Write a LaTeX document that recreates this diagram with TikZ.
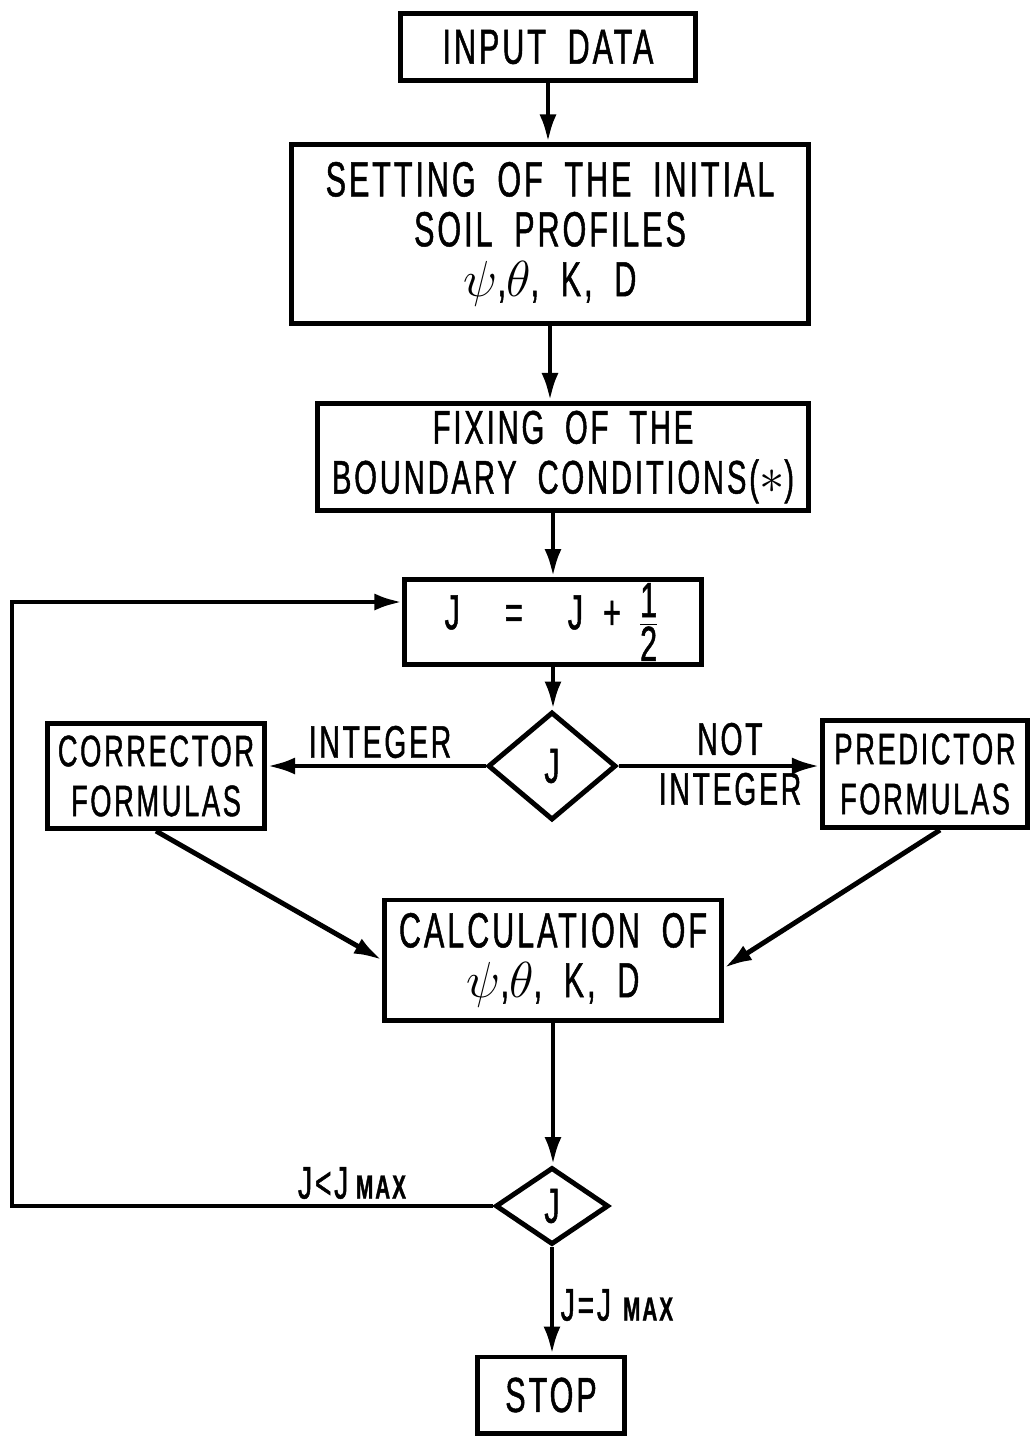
\documentclass[tikz,border=0pt]{standalone}
\usepackage{fontspec}
\setmainfont{Liberation Sans}[FakeStretch=0.62,LetterSpace=6,WordSpace=1.9,FakeBold=1]
\usetikzlibrary{shapes.geometric,arrows.meta}

\tikzset{
  box/.style={draw, line width=1.4pt, inner sep=0pt, align=center,
    font=\fontsize{14}{14.2}\selectfont},
  smallbox/.style={box, font=\fontsize{12.5}{14.2}\selectfont},
  decide/.style={draw, diamond, line width=1.4pt, inner sep=0pt,
    font=\fontsize{14}{14}\selectfont},
  flow/.style={line width=1.4pt, -{Latex[length=2.8mm,width=1.7mm]}},
  lbl/.style={inner sep=0pt, align=center, font=\fontsize{13}{14.2}\selectfont}
}
\newcommand{\jmax}{J\,{\fontsize{9.5}{10}\selectfont\bfseries MAX}}
\newcommand{\halfstep}{\raisebox{-0.3ex}{$\textstyle\frac{\textrm{1}}{\textrm{2}}$}}

\begin{document}
\begin{tikzpicture}[x=0.01cm, y=-0.01cm]
      \useasboundingbox (0, 0) rectangle (1031, 1436);

      \node[box, minimum width=2.95cm, minimum height=0.67cm] (input) at (548, 47) {INPUT DATA};
      \node[box, minimum width=5.16cm, minimum height=1.78cm] (setting) at (550, 234)
        {SETTING OF THE INITIAL\\SOIL PROFILES\\$\psi$,$\theta$, K, D};
      \node[box, minimum width=4.90cm, minimum height=1.07cm,
        font=\fontsize{13.4}{14.2}\selectfont] (fixing) at (563, 457)
        {FIXING OF THE\\BOUNDARY CONDITIONS($\ast$)};
      \node[box, minimum width=2.96cm, minimum height=0.85cm] (incr) at (553, 622)
        {J\hspace{0.45cm}=\hspace{0.45cm}J\hspace{0.2cm}+\hspace{0.15cm}\halfstep};

      \node[decide, minimum width=1.28cm, minimum height=1.08cm] (test) at (552, 766) {J};
      \node[smallbox, minimum width=2.17cm, minimum height=1.05cm] (corrector) at (156, 776)
        {CORRECTOR\\FORMULAS};
      \node[smallbox, minimum width=2.05cm, minimum height=1.07cm] (predictor) at (925, 774)
        {PREDICTOR\\FORMULAS};

      \node[box, minimum width=3.37cm, minimum height=1.20cm] (calc) at (553, 960)
        {CALCULATION OF\\$\psi$,$\theta$, K, D};
      \node[decide, minimum width=1.13cm, minimum height=0.77cm] (check) at (552, 1206) {J};
      \node[box, minimum width=1.47cm, minimum height=0.76cm] (stop) at (551, 1395) {STOP};

      % branch labels
      \node[lbl] (lblint) at (380, 742) {INTEGER};
      \node[lbl] (lblnot) at (730, 764) {NOT\\INTEGER};
      \node[lbl] (lblless) at (352, 1183) {J<\jmax};
      \node[lbl, anchor=west] (lbleq) at (560, 1305) {J=J\hspace{0.12cm}{\fontsize{9.5}{10}\selectfont\bfseries MAX}};

      \draw[flow] (input.south) -- (input.south |- setting.north);
      \draw[flow] (setting.south) -- (setting.south |- fixing.north);
      \draw[flow] (incr.north |- fixing.south) -- (incr.north);
      \draw[flow] (incr.south) -- (incr.south |- test.north);

      \draw[flow] (test.west) -- (corrector.east |- test.west);
      \draw[flow] (test.east) -- (predictor.west |- test.east);
      \draw[flow] (corrector.south) -- (calc.west);
      \draw[flow] ([xshift=0.15cm]predictor.south) -- ([yshift=-0.08cm]calc.east);

      \draw[flow] (calc.south) -- (calc.south |- check.north);
      \draw[flow] (check.south) -- (check.south |- stop.north);

      % loop back
      \coordinate (loopbot) at (12, 1206);
      \coordinate (looptop) at (12, 602);
      \draw[flow] (check.west) -- (loopbot) -- (looptop) -- (incr.west |- looptop);
\end{tikzpicture}
\end{document}
